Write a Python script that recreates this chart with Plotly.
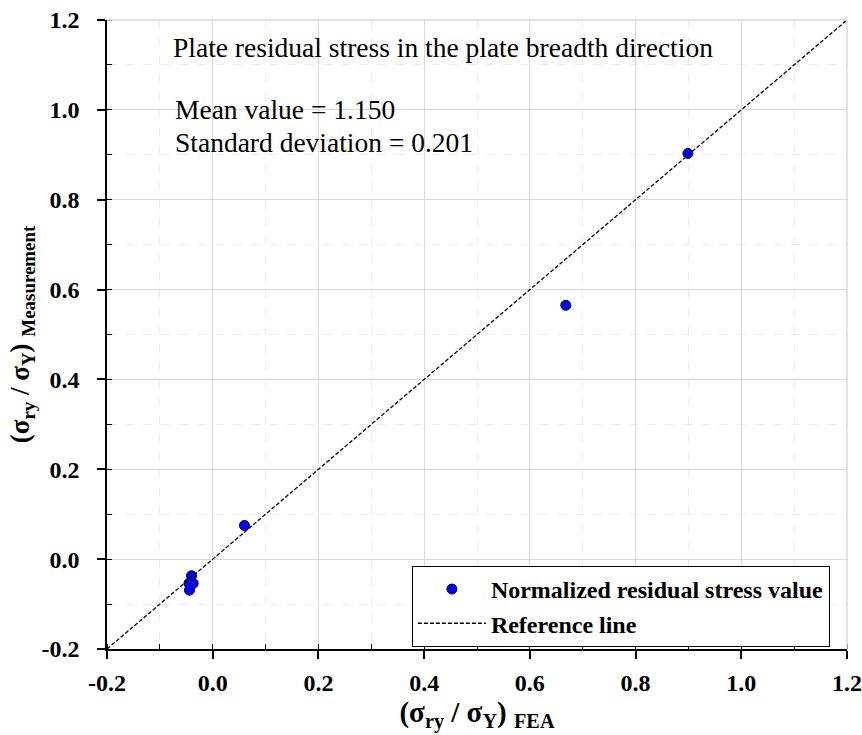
import plotly.graph_objects as go

# Data
fea = [0.899, 0.668, 0.060, -0.040, -0.037, -0.045, -0.044]
measurement = [0.903, 0.565, 0.075, -0.037, -0.054, -0.054, -0.069]
ref_x = [-0.2, 1.2]
ref_y = [-0.2, 1.2]
tick_vals = [-0.2, 0.0, 0.2, 0.4, 0.6, 0.8, 1.0, 1.2]
tick_text = ["-0.2", "0.0", "0.2", "0.4", "0.6", "0.8", "1.0", "1.2"]

FONT = "Liberation Serif, Times New Roman, serif"

fig = go.Figure()
fig.add_trace(go.Scatter(
    x=fea, y=measurement, mode="markers",
    name="<b>Normalized residual stress value</b>",
    marker=dict(color="#0000FF", size=10, line=dict(color="#000033", width=1)),
))
fig.add_trace(go.Scatter(
    x=ref_x, y=ref_y, mode="lines",
    name="<b>Reference line</b>",
    line=dict(color="black", width=1.3, dash="4px,2px"),
))

axis_common = dict(
    range=[-0.2, 1.2],
    tickvals=tick_vals, ticktext=tick_text,
    showline=True, linecolor="black", linewidth=1.5,
    ticks="outside", ticklen=8, tickwidth=1.5, tickcolor="black",
    showgrid=True, gridcolor="#d9d9d9", gridwidth=1,
    zeroline=False, automargin=False,
    tickfont=dict(family=FONT, size=24, color="black", weight="bold"),
    minor=dict(dtick=0.1, ticks="inside", ticklen=5, tickcolor="black", tickwidth=1,
               showgrid=True, gridcolor="#ececec", griddash="dash", gridwidth=1),
)

fig.update_xaxes(**axis_common, ticklabelstandoff=3,
    title=dict(text="<b>(σ<sub>ry</sub> / σ<sub>Y</sub>) <sub>FEA</sub></b>",
               font=dict(family=FONT, size=29, color="black"), standoff=4))
fig.update_yaxes(**axis_common, ticklabelstandoff=13,
    title=dict(text="<b>(σ<sub>ry</sub> / σ<sub>Y</sub>) <sub>Measurement</sub></b>",
               font=dict(family=FONT, size=27, color="black"), standoff=4))

# light border on top / right (grid edge)
fig.add_shape(type="line", xref="paper", yref="paper", x0=0, x1=1, y0=1, y1=1,
              line=dict(color="#d9d9d9", width=1.5))
fig.add_shape(type="line", xref="paper", yref="paper", x0=1, x1=1, y0=0, y1=1,
              line=dict(color="#d9d9d9", width=1.5))

fig.add_annotation(xref="paper", yref="paper", x=0.086, y=0.957, xanchor="left", yanchor="middle",
                   text="Plate residual stress in the plate breadth direction", showarrow=False,
                   font=dict(family=FONT, size=27.5, color="black"))
fig.add_annotation(xref="paper", yref="paper", x=0.089, y=0.857, xanchor="left", yanchor="middle",
                   text="Mean value = 1.150", showarrow=False,
                   font=dict(family=FONT, size=27.5, color="black"))
fig.add_annotation(xref="paper", yref="paper", x=0.089, y=0.806, xanchor="left", yanchor="middle",
                   text="Standard deviation = 0.201", showarrow=False,
                   font=dict(family=FONT, size=27.5, color="black"))

fig.update_layout(
    width=862, height=735,
    margin=dict(l=107, r=15, t=20, b=86),
    plot_bgcolor="white", paper_bgcolor="white",
    font=dict(family=FONT, color="black"),
    showlegend=True,
    legend=dict(x=0.412, y=0.132, xanchor="left", yanchor="top",
                bgcolor="white", bordercolor="black", borderwidth=1,
                font=dict(family=FONT, size=24, color="black"),
                itemwidth=68, tracegroupgap=0),
)

fig.write_html("out.html")
